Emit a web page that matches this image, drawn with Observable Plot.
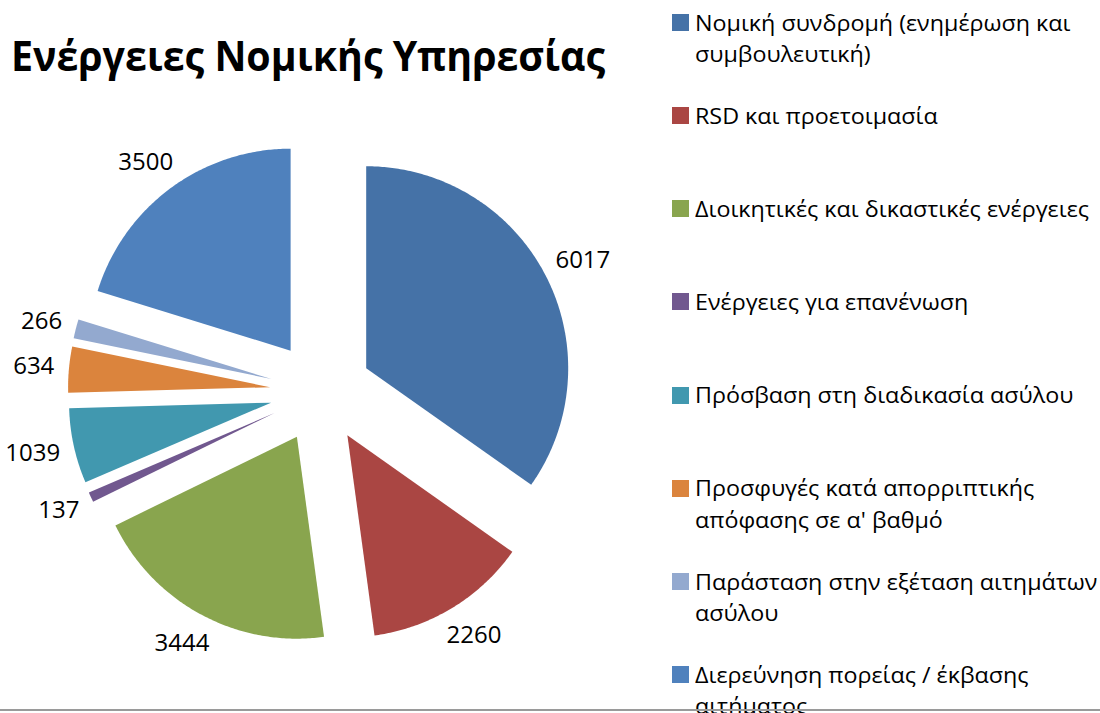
<!DOCTYPE html>
<html><head><meta charset="utf-8">
<script src="https://cdn.jsdelivr.net/npm/d3@7"></script>
<script src="https://cdn.jsdelivr.net/npm/@observablehq/plot@0.6"></script>
<style>
html,body{margin:0;padding:0;background:#fff;}
#wrap{position:relative;width:1100px;height:713px;overflow:hidden;font-family:"Open Sans",sans-serif;color:#000;}
#chart{position:absolute;left:0;top:0;}
#title{position:absolute;left:11px;top:34px;font-weight:700;font-size:42px;line-height:42px;white-space:nowrap;transform-origin:0 0;}
.item{position:absolute;left:672px;}
.sw{position:absolute;left:0;top:0;width:17px;height:17px;}
.lab{position:absolute;left:23px;top:-7.3px;font-size:22px;line-height:31.3px;transform-origin:0 0;}
#rule{position:absolute;left:0;top:709px;width:1100px;height:2px;background:#9a9a9a;z-index:5;}
</style>
</head><body>
<div id="wrap">
  <div id="chart"></div>
  <div id="title">Ενέργειες Νομικής Υπηρεσίας</div>
  <div id="legend"></div>
  <div id="rule"></div>
</div>
<script>
const categories = [
  "Νομική συνδρομή (ενημέρωση και συμβουλευτική)",
  "RSD και προετοιμασία",
  "Διοικητικές και δικαστικές ενέργειες",
  "Ενέργειες για επανένωση",
  "Πρόσβαση στη διαδικασία ασύλου",
  "Προσφυγές κατά απορριπτικής απόφασης σε α' βαθμό",
  "Παράσταση στην εξέταση αιτημάτων ασύλου",
  "Διερεύνηση πορείας / έκβασης αιτήματος"
];
const values = [6017, 2260, 3444, 137, 1039, 634, 266, 3500];
const colors = ["#4572A7", "#AA4643", "#89A54E", "#71588F", "#4198AF", "#DB843D", "#93A9CF", "#4F81BD"];

// layout constants
const W = 1100, H = 713;
const cx = 320.4, cy = 391.2, R = 202, EXPLODE = 51, LABEL_GAP = 15;
const DIGIT_W = 13.5, LABEL_H = 34;

const arcs = d3.pie().sort(null).value(d => d)(values);
const slicePts = arcs.map((a, i) => {
  const mid = (a.startAngle + a.endAngle) / 2;
  const ox = cx + EXPLODE * Math.sin(mid), oy = cy - EXPLODE * Math.cos(mid);
  const pts = [{x: ox, y: oy}];
  const n = Math.max(2, Math.ceil((a.endAngle - a.startAngle) / 0.01));
  for (let k = 0; k <= n; k++) {
    const t = a.startAngle + (a.endAngle - a.startAngle) * k / n;
    pts.push({x: ox + R * Math.sin(t), y: oy - R * Math.cos(t)});
  }
  pts.push({x: ox, y: oy});
  return pts;
});
const labelData = arcs.map((a, i) => {
  const mid = (a.startAngle + a.endAngle) / 2;
  const sx = Math.sin(mid), sy = -Math.cos(mid);
  const ox = cx + EXPLODE * sx, oy = cy + EXPLODE * sy;
  const text = String(values[i]);
  const w = text.length * DIGIT_W;
  return {
    x: ox + (R + LABEL_GAP) * sx + (w / 2) * sx,
    y: oy + (R + LABEL_GAP) * sy + (LABEL_H / 2) * sy,
    text
  };
});

const plot = Plot.plot({
  width: W, height: H, margin: 0,
  style: {fontFamily: "'Open Sans', sans-serif", background: "transparent", overflow: "visible"},
  x: {domain: [0, W], range: [0, W], axis: null},
  y: {domain: [0, H], range: [0, H], axis: null},
  marks: [
    ...slicePts.map((pts, i) => Plot.line(pts, {x: "x", y: "y", fill: colors[i], stroke: "none", curve: "linear"})),
    Plot.text(labelData, {x: "x", y: "y", text: "text", fontSize: 24, fill: "#000"})
  ]
});
document.getElementById("chart").appendChild(plot);

// title width fit
const title = document.getElementById("title");
const tw = title.getBoundingClientRect().width;
title.style.transform = `scaleX(${594 / tw})`;

// legend
const legend = document.getElementById("legend");
const meas = document.createElement("span");
meas.style.cssText = "position:absolute;visibility:hidden;white-space:nowrap;font-size:22px;font-family:'Open Sans',sans-serif";
meas.textContent = categories[2];
document.body.appendChild(meas);
const s = 394 / meas.getBoundingClientRect().width;
meas.remove();
categories.forEach((c, i) => {
  const item = document.createElement("div");
  item.className = "item";
  item.style.top = (14 + i * 93.15) + "px";
  const sw = document.createElement("div");
  sw.className = "sw";
  sw.style.background = colors[i];
  const lab = document.createElement("div");
  lab.className = "lab";
  lab.style.width = (410 / s) + "px";
  lab.style.transform = `scaleX(${s})`;
  lab.textContent = c;
  item.appendChild(sw);
  item.appendChild(lab);
  legend.appendChild(item);
});
</script>
</body></html>
